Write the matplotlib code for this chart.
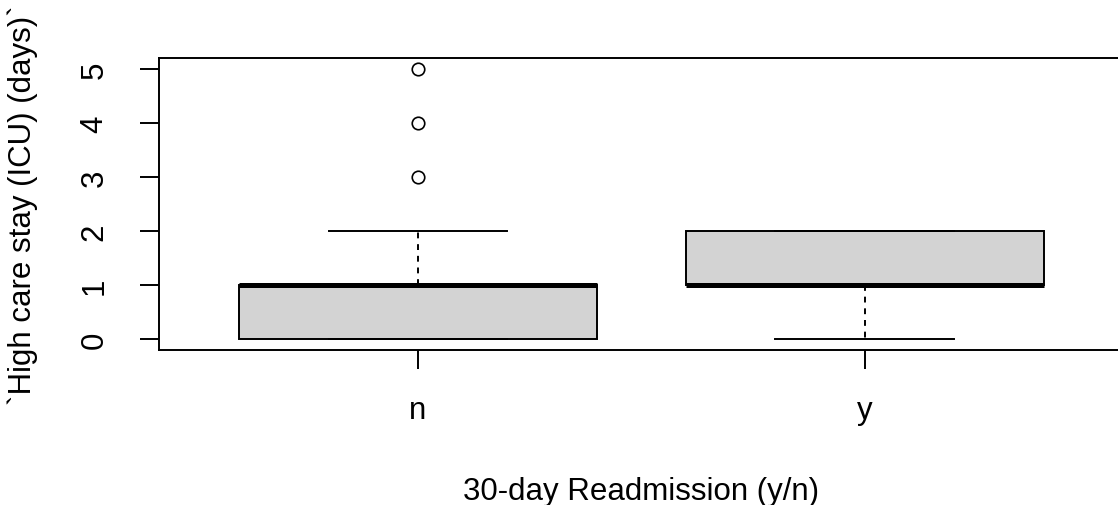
import matplotlib.pyplot as plt

# R-style boxplot summary values
groups = ['n', 'y']
q1 = [0, 1]
med = [1, 1]
q3 = [1, 2]
whislo = [0, 0]
whishi = [2, 2]
fliers = [[3, 4, 5], []]
yticks = [0, 1, 2, 3, 4, 5]

plt.rcParams['font.family'] = ['Liberation Sans', 'DejaVu Sans']

stats = []
for i, g in enumerate(groups):
    stats.append(dict(label=g, q1=q1[i], med=med[i], q3=q3[i],
                      whislo=whislo[i], whishi=whishi[i], fliers=fliers[i]))

fig = plt.figure(figsize=(11.18, 5.06), dpi=100)
ax = fig.add_axes([0.142, 0.3067, 0.8634, 0.5763])

ax.bxp(stats, positions=[1, 2], widths=0.8, patch_artist=True,
       boxprops=dict(facecolor='#d3d3d3', edgecolor='black', linewidth=1.4),
       medianprops=dict(color='black', linewidth=3.6, solid_capstyle='butt'),
       whiskerprops=dict(color='black', linewidth=1.4, linestyle=(0, (3, 3))),
       capprops=dict(color='black', linewidth=1.4),
       capwidths=0.4,
       flierprops=dict(marker='o', markerfacecolor='none', markeredgecolor='black',
                       markersize=9, markeredgewidth=1.2))

ax.set_xlim(0.42, 2.58)
ax.set_ylim(-0.2, 5.2)
ax.set_yticks(yticks)
ax.set_yticklabels([str(v) for v in yticks], rotation=90, va='center')
ax.set_xticks([1, 2])
ax.set_xticklabels(groups)
ax.tick_params(axis='both', length=13.5, width=1.4, labelsize=22.5)
ax.tick_params(axis='y', pad=22)
ax.tick_params(axis='x', pad=19)
for s in ax.spines.values():
    s.set_linewidth(1.4)

ax.set_xlabel('30-day Readmission (y/n)', fontsize=22.5, labelpad=37)
ax.set_ylabel('`High care stay (ICU) (days)`', fontsize=22.5, labelpad=30)

fig.savefig('out.png', dpi=100)
